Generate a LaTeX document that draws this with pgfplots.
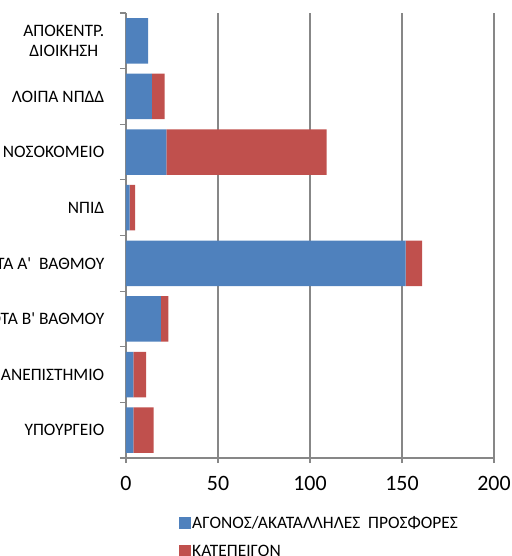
\documentclass[border=0pt]{standalone}
\usepackage{fontspec}
\setmainfont{Carlito}
\usepackage{pgfplots}
\pgfplotsset{compat=1.18}
\definecolor{sblue}{HTML}{4F81BD}
\definecolor{sred}{HTML}{C0504D}
\definecolor{gridgray}{HTML}{878787}

\begin{document}
\begin{tikzpicture}
\begin{axis}[
  at={(0,0)}, anchor=south west,
  scale only axis, width=368bp, height=445bp,
  xbar stacked, bar width=0.82,
  xmin=0, xmax=200, ymin=-0.5, ymax=7.5,
  xtick={0,50,...,200},
  ytick={0,...,7},
  minor ytick={-0.5,0.5,...,7.5},
  yticklabels={ΥΠΟΥΡΓΕΙΟ, ΠΑΝΕΠΙΣΤΗΜΙΟ, ΟΤΑ Β\textquotesingle\ ΒΑΘΜΟΥ, ΟΤΑ Α\textquotesingle\ \ ΒΑΘΜΟΥ, ΝΠΙΔ, ΝΟΣΟΚΟΜΕΙΟ, ΛΟΙΠΑ ΝΠΔΔ, {ΑΠΟΚΕΝΤΡ.\\ΔΙΟΙΚΗΣΗ}},
  axis lines*=left,
  axis line style={-, draw=gridgray, line width=1.2bp},
  tick align=outside,
  major tick length=5bp, minor tick length=6bp,
  major y tick style={draw=none},
  every tick/.style={gridgray, line width=1.2bp},
  minor y tick style={gridgray, line width=1.2bp},
  major x tick style={gridgray, line width=1.2bp},
  xmajorgrids,
  major x grid style={gridgray, line width=1.2bp},
  /pgf/number format/assume math mode=true,
  xticklabel style={font=\fontsize{22}{24}\selectfont, inner sep=0pt, anchor=north, yshift=-13bp},
  yticklabel style={font=\fontsize{17.5}{20}\selectfont, align=center, anchor=east, inner sep=0pt, xshift=-16.5bp},
  legend style={at={(axis description cs:0.144,-0.128)}, anchor=north west, draw=none, fill=none,
    inner sep=0pt, font=\fontsize{17.5}{20}\selectfont,
    nodes={inner sep=1bp, text height=12bp, text depth=2bp}, row sep=12bp},
  legend cell align=left,
]
\addplot[fill=sblue, draw=none, legend image code/.code={\fill[sblue] (0bp,-6bp) rectangle (12bp,6bp);}]
  coordinates {(4,0) (4,1) (19,2) (152,3) (2,4) (22,5) (14,6) (12,7)};
\addplot[fill=sred, draw=none, legend image code/.code={\fill[sred] (0bp,-6bp) rectangle (12bp,6bp);}]
  coordinates {(11,0) (7,1) (4,2) (9,3) (3,4) (87,5) (7,6) (0,7)};
\legend{ΑΓΟΝΟΣ/ΑΚΑΤΑΛΛΗΛΕΣ\ \ ΠΡΟΣΦΟΡΕΣ, ΚΑΤΕΠΕΙΓΟΝ}
\end{axis}
\pgfresetboundingbox
\path (-126bp,-98bp) rectangle (386bp,458bp);
\end{tikzpicture}
\end{document}
